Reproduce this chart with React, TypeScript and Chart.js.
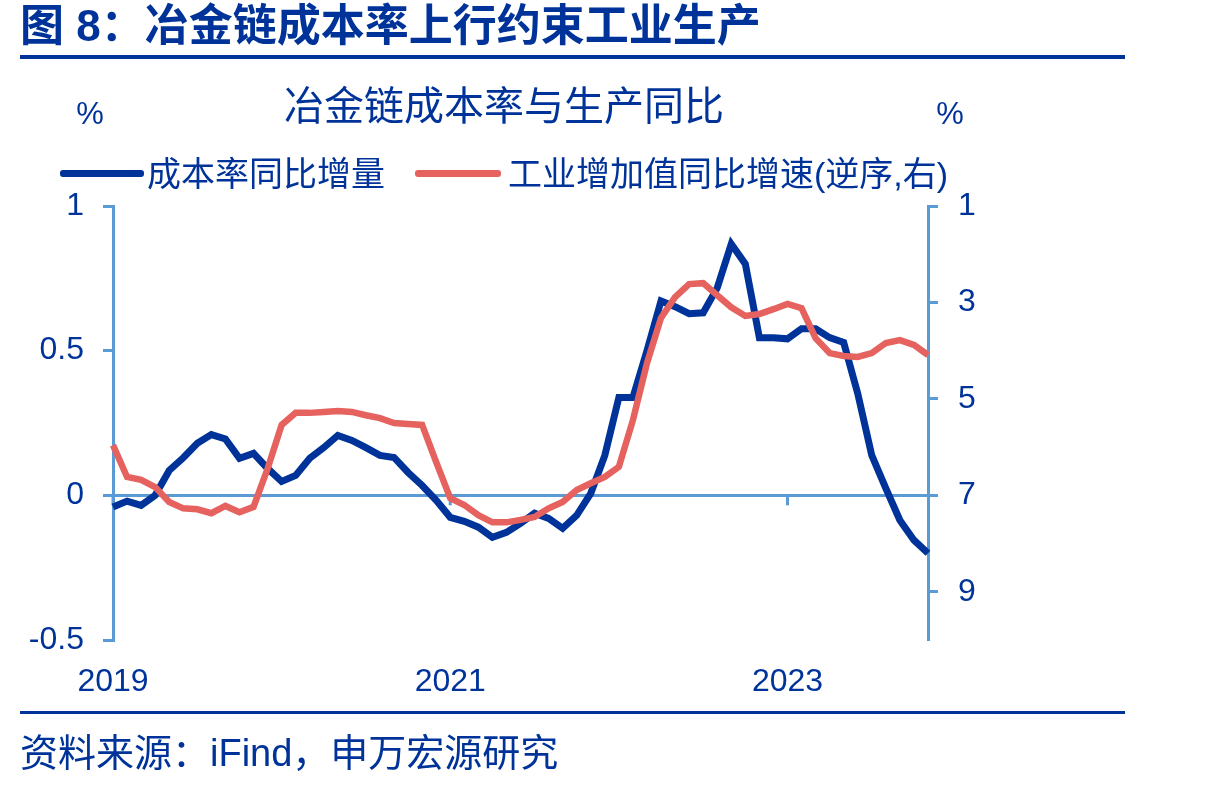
import React, { useEffect, useRef } from 'react';
import { Chart, registerables } from 'chart.js';

Chart.register(...registerables);

const years = ['2019', '2020', '2021', '2022', '2023'];
const monthsPerYear = ['01', '02', '03', '04', '05', '06', '07', '08', '09', '10', '11', '12'];
const tickYears = ['2019', '2021', '2023'];
const leftTicks = [-0.5, 0, 0.5, 1];
const rightTicks = [1, 3, 5, 7, 9];

// 成本率同比增量 (left axis, %)
const costRateYoY = [
  -0.04, -0.02, -0.035, 0.0, 0.086, 0.13, 0.18, 0.21, 0.195, 0.128, 0.145, 0.093,
  0.048, 0.069, 0.128, 0.165, 0.207, 0.19, 0.165, 0.138, 0.131, 0.079, 0.034, -0.017,
  -0.076, -0.09, -0.11, -0.145, -0.128, -0.097, -0.062, -0.08, -0.114, -0.069, 0.007, 0.138,
  0.338, 0.338, 0.5, 0.672, 0.652, 0.628, 0.631, 0.717, 0.869, 0.8, 0.545, 0.545,
  0.541, 0.576, 0.576, 0.545, 0.528, 0.352, 0.138, 0.024, -0.086, -0.155, -0.2,
];

// 工业增加值同比增速 (right axis, reversed, %)
const industrialValueAddedYoY = [
  5.96, 6.62, 6.68, 6.83, 7.14, 7.27, 7.29, 7.37, 7.22, 7.35, 7.24, 6.45,
  5.54, 5.29, 5.29, 5.27, 5.25, 5.27, 5.34, 5.4, 5.5, 5.52, 5.54, 6.31,
  7.06, 7.2, 7.41, 7.56, 7.56, 7.51, 7.45, 7.27, 7.14, 6.89, 6.75, 6.62,
  6.41, 5.44, 4.26, 3.32, 2.89, 2.62, 2.6, 2.85, 3.1, 3.28, 3.24, 3.14,
  3.03, 3.12, 3.74, 4.05, 4.11, 4.13, 4.05, 3.84, 3.78, 3.88, 4.09,
];

const labels: string[] = [];
years.forEach((y) => monthsPerYear.forEach((m) => labels.push(`${y}-${m}`)));
labels.length = costRateYoY.length;

const NAVY = '#003399';
const RED = '#E5625F';
const AXIS = '#5B9BD5';
const TEXT = '#003399';
const FONT = '"Liberation Sans", "Noto Sans CJK SC", Arial, sans-serif';

const isYearTick = (lab: string) => lab.endsWith('-01') && tickYears.includes(lab.slice(0, 4));

const yearTickPlugin = {
  id: 'yearTicks',
  beforeDatasetsDraw(chart: any) {
    const x = chart.scales.x;
    const y = chart.scales.yL;
    const y0 = y.getPixelForValue(0);
    const ctx = chart.ctx;
    ctx.save();
    ctx.strokeStyle = AXIS;
    ctx.lineWidth = 3;
    labels.forEach((lab, i) => {
      if (isYearTick(lab)) {
        const px = x.getPixelForValue(i);
        ctx.beginPath();
        ctx.moveTo(px, y0);
        ctx.lineTo(px, y0 + 10);
        ctx.stroke();
      }
    });
    ctx.restore();
  },
};

function ChartCanvas() {
  const ref = useRef<HTMLCanvasElement | null>(null);
  useEffect(() => {
    if (!ref.current) return;
    const chart = new Chart(ref.current, {
      type: 'line',
      data: {
        labels,
        datasets: [
          {
            label: '成本率同比增量',
            data: costRateYoY,
            yAxisID: 'yL',
            borderColor: NAVY,
            backgroundColor: NAVY,
            borderWidth: 7,
            pointRadius: 0,
            tension: 0,
            order: 2,
          },
          {
            label: '工业增加值同比增速(逆序,右)',
            data: industrialValueAddedYoY,
            yAxisID: 'yR',
            borderColor: RED,
            backgroundColor: RED,
            borderWidth: 6.5,
            pointRadius: 0,
            tension: 0,
            order: 1,
          },
        ],
      },
      options: {
        responsive: false,
        animation: false,
        devicePixelRatio: 1,
        layout: { padding: { top: 206, left: 0, right: 0, bottom: 0 } },
        plugins: {
          legend: { display: false },
          title: { display: false },
          tooltip: { enabled: false },
        },
        scales: {
          x: {
            type: 'category',
            offset: false,
            grid: { display: false, drawTicks: false },
            border: { display: false },
            ticks: {
              autoSkip: false,
              maxRotation: 0,
              padding: 23,
              color: TEXT,
              font: { family: FONT, size: 32 },
              callback: (_v: any, i: number) => (isYearTick(labels[i]) ? labels[i].slice(0, 4) : ''),
            },
            afterFit: (s: any) => {
              s.height = 147;
            },
          },
          yL: {
            type: 'linear',
            position: 'left',
            min: -0.5,
            max: 1,
            afterBuildTicks: (s: any) => {
              s.ticks = leftTicks.map((v) => ({ value: v }));
            },
            ticks: {
              padding: 19,
              color: TEXT,
              font: { family: FONT, size: 32 },
              callback: (v: any) => String(v),
            },
            grid: {
              drawOnChartArea: true,
              color: (c: any) => (c.tick && c.tick.value === 0 ? AXIS : 'rgba(0,0,0,0)'),
              lineWidth: 3,
              tickColor: AXIS,
              tickLength: 10,
              tickWidth: 3,
            },
            border: { display: true, color: AXIS, width: 3 },
            afterFit: (s: any) => {
              s.width = 113;
            },
          },
          yR: {
            type: 'linear',
            position: 'right',
            reverse: true,
            min: 1,
            max: 10,
            afterBuildTicks: (s: any) => {
              s.ticks = rightTicks.map((v) => ({ value: v }));
            },
            ticks: {
              padding: 20,
              color: TEXT,
              font: { family: FONT, size: 32 },
              callback: (v: any) => String(v),
            },
            grid: {
              drawOnChartArea: false,
              tickColor: AXIS,
              tickLength: 10,
              tickWidth: 3,
            },
            border: { display: true, color: AXIS, width: 3 },
            afterFit: (s: any) => {
              s.width = 1230 - 928;
            },
          },
        },
      } as any,
      plugins: [yearTickPlugin],
    });
    return () => chart.destroy();
  }, []);
  return <canvas ref={ref} width={1230} height={787} style={{ position: 'absolute', left: 0, top: 0 }} />;
}

const abs = (extra: React.CSSProperties): React.CSSProperties => ({
  position: 'absolute',
  lineHeight: 1,
  whiteSpace: 'nowrap',
  color: TEXT,
  fontFamily: FONT,
  ...extra,
});

export default function App() {
  return (
    <div style={{ position: 'absolute', left: 0, top: 0, width: 1230, height: 787, background: '#fff', overflow: 'hidden' }}>
      <ChartCanvas />
      <div style={abs({ left: 20, top: 4, fontSize: 44, fontWeight: 700 })}>图 8：冶金链成本率上行约束工业生产</div>
      <div style={{ position: 'absolute', left: 20, top: 55, width: 1105, height: 4, background: NAVY }} />
      <div style={abs({ left: 504, top: 86, fontSize: 40, transform: 'translateX(-50%)' })}>冶金链成本率与生产同比</div>
      <div style={abs({ left: 90, top: 98, fontSize: 31, transform: 'translateX(-50%)' })}>%</div>
      <div style={abs({ left: 950, top: 98, fontSize: 31, transform: 'translateX(-50%)' })}>%</div>
      <div style={{ position: 'absolute', left: 60, top: 170, width: 84, height: 7, borderRadius: 3, background: NAVY }} />
      <div style={abs({ left: 147, top: 157, fontSize: 34 })}>成本率同比增量</div>
      <div style={{ position: 'absolute', left: 415, top: 170, width: 86, height: 7, borderRadius: 3, background: RED }} />
      <div style={abs({ left: 508, top: 157, fontSize: 34 })}>工业增加值同比增速(逆序,右)</div>
      <div style={{ position: 'absolute', left: 20, top: 711, width: 1105, height: 3, background: NAVY }} />
      <div style={abs({ left: 20, top: 734, fontSize: 38 })}>资料来源：iFind，申万宏源研究</div>
    </div>
  );
}
